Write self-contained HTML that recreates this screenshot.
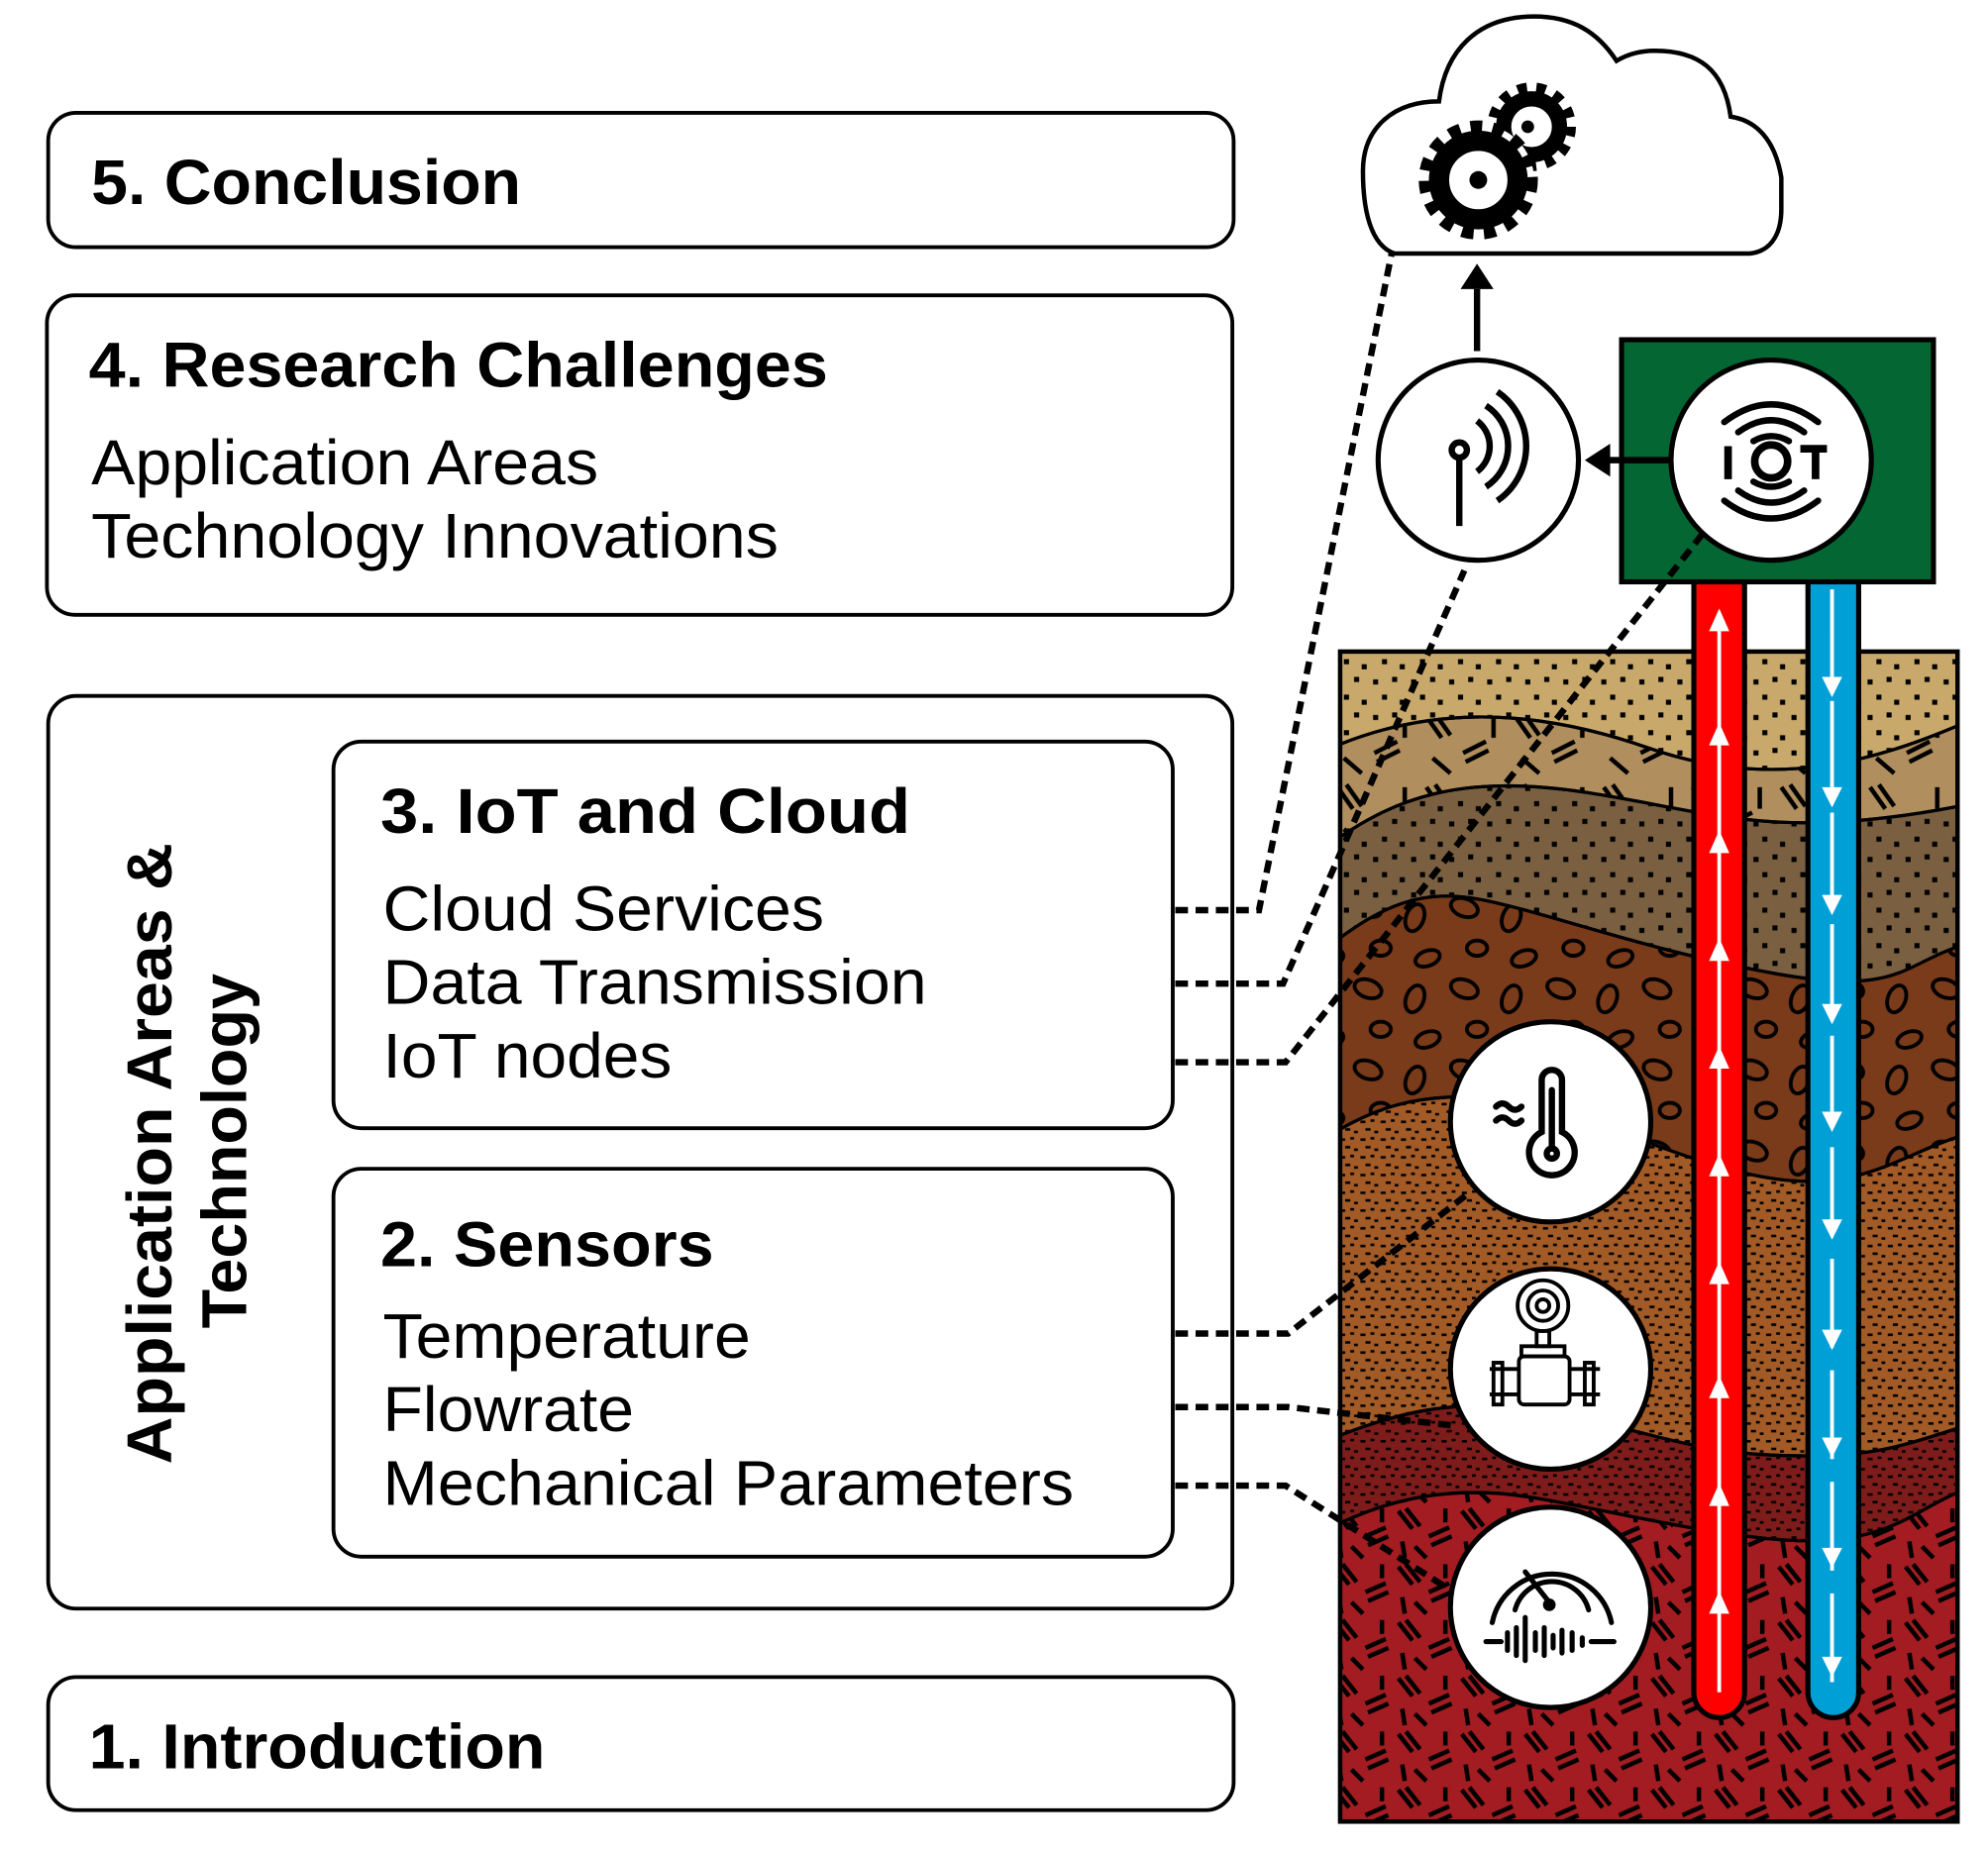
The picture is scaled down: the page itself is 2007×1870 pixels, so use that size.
<!DOCTYPE html>
<html><head><meta charset="utf-8"><style>html,body{margin:0;padding:0;background:#fff}svg{display:block}</style></head><body>
<svg width="2007" height="1870" viewBox="0 0 1568 1461" xmlns="http://www.w3.org/2000/svg" font-family="Liberation Sans, Arial, sans-serif">
<defs>
<pattern id="dots" width="30" height="28" patternUnits="userSpaceOnUse">
<rect x="3" y="4" width="4" height="4" fill="#000"/><rect x="18" y="2" width="4" height="4" fill="#000"/><rect x="10" y="16" width="4" height="4" fill="#000"/><rect x="24" y="20" width="4" height="4" fill="#000"/></pattern>
<pattern id="fdots" width="16" height="14" patternUnits="userSpaceOnUse">
<rect x="1" y="2" width="4" height="2" fill="#000"/><rect x="9" y="1" width="3" height="2" fill="#000"/><rect x="5" y="8" width="4" height="2" fill="#000"/><rect x="12" y="10" width="3" height="2" fill="#000"/></pattern>
<pattern id="dash" width="70" height="56" patternUnits="userSpaceOnUse">
<g stroke="#000" stroke-width="3.5"><line x1="5" y1="5" x2="17" y2="22"/><line x1="12" y1="3" x2="24" y2="20"/><line x1="34" y1="34" x2="52" y2="25"/><line x1="36" y1="41" x2="54" y2="32"/><line x1="58" y1="5" x2="58" y2="22"/><line x1="10" y1="38" x2="24" y2="50"/></g></pattern>
<pattern id="dash2" width="50" height="44" patternUnits="userSpaceOnUse">
<g stroke="#000" stroke-width="3.5"><line x1="3" y1="4" x2="14" y2="18"/><line x1="9" y1="2" x2="20" y2="16"/><line x1="27" y1="24" x2="43" y2="17"/><line x1="29" y1="31" x2="45" y2="24"/><line x1="40" y1="2" x2="40" y2="13"/><line x1="6" y1="28" x2="8" y2="41"/><line x1="16" y1="32" x2="25" y2="41"/></g></pattern>
<pattern id="ell" width="76" height="64" patternUnits="userSpaceOnUse">
<g fill="none" stroke="#000" stroke-width="3"><ellipse cx="15" cy="12" rx="11" ry="7" transform="rotate(20 15 12)"/><ellipse cx="52" cy="20" rx="7" ry="11" transform="rotate(20 52 20)"/><ellipse cx="25" cy="44" rx="8" ry="6"/><ellipse cx="62" cy="52" rx="10" ry="6" transform="rotate(-20 62 52)"/></g></pattern>
<clipPath id="soil"><rect x="1057" y="514" width="487" height="923"/></clipPath>
</defs>
<g fill="none" stroke="#000" stroke-width="3">
<rect x="38" y="89" width="935" height="106" rx="22"/>
<rect x="37" y="233" width="935" height="252" rx="22"/>
<rect x="38" y="549" width="934" height="720" rx="22"/>
<rect x="263" y="585" width="662" height="305" rx="22"/>
<rect x="263" y="922" width="662" height="306" rx="22"/>
<rect x="38" y="1323" width="935" height="105" rx="22"/>
</g>
<g font-size="50" fill="#000">
<text x="72" y="161" font-weight="bold" textLength="339" lengthAdjust="spacingAndGlyphs">5. Conclusion</text>
<text x="70" y="305" font-weight="bold" textLength="583" lengthAdjust="spacingAndGlyphs">4. Research Challenges</text>
<text x="72" y="382" textLength="400" lengthAdjust="spacingAndGlyphs">Application Areas</text>
<text x="72" y="440" textLength="542" lengthAdjust="spacingAndGlyphs">Technology Innovations</text>
<text x="300" y="657" font-weight="bold" textLength="418" lengthAdjust="spacingAndGlyphs">3.  IoT and Cloud</text>
<text x="302" y="734" textLength="348" lengthAdjust="spacingAndGlyphs">Cloud Services</text>
<text x="302" y="792" textLength="429" lengthAdjust="spacingAndGlyphs">Data Transmission</text>
<text x="302" y="850" textLength="228" lengthAdjust="spacingAndGlyphs">IoT nodes</text>
<text x="300" y="999" font-weight="bold" textLength="263" lengthAdjust="spacingAndGlyphs">2. Sensors</text>
<text x="302" y="1071" textLength="290" lengthAdjust="spacingAndGlyphs">Temperature</text>
<text x="302" y="1129" textLength="198" lengthAdjust="spacingAndGlyphs">Flowrate</text>
<text x="302" y="1187" textLength="545" lengthAdjust="spacingAndGlyphs">Mechanical Parameters</text>
<text x="70" y="1395" font-weight="bold" textLength="360" lengthAdjust="spacingAndGlyphs">1. Introduction</text>
<text transform="translate(135 1155) rotate(-90)" font-weight="bold" textLength="490" lengthAdjust="spacingAndGlyphs">Application Areas &amp;</text>
<text transform="translate(194 1048) rotate(-90)" font-weight="bold" textLength="280" lengthAdjust="spacingAndGlyphs">Technology</text>
</g>
<g clip-path="url(#soil)" stroke="#000" stroke-width="2.5">
<rect x="1057" y="514" width="487" height="923" fill="#c9a96b"/>
<rect x="1057" y="514" width="487" height="923" fill="url(#dots)" stroke="none"/>
<path d="M1050 590 C1120 560 1200 555 1300 590 S1480 600 1550 570 L1550 1440 L1050 1440Z" fill="#b08e5e"/>
<path d="M1050 590 C1120 560 1200 555 1300 590 S1480 600 1550 570 L1550 1440 L1050 1440Z" fill="url(#dash)"/>
<path d="M1050 665 C1100 630 1150 610 1250 625 S1400 665 1550 635 L1550 1440 L1050 1440Z" fill="#7a6040"/>
<path d="M1050 665 C1100 630 1150 610 1250 625 S1400 665 1550 635 L1550 1440 L1050 1440Z" fill="url(#dots)"/>
<path d="M1050 745 C1090 715 1120 700 1170 710 S1300 750 1400 768 S1500 760 1550 745 L1550 1440 L1050 1440Z" fill="#7a3b1a"/>
<path d="M1050 745 C1090 715 1120 700 1170 710 S1300 750 1400 768 S1500 760 1550 745 L1550 1440 L1050 1440Z" fill="url(#ell)"/>
<path d="M1050 895 C1090 870 1130 860 1190 868 S1330 920 1400 930 S1500 910 1550 895 L1550 1440 L1050 1440Z" fill="#a25a26"/>
<path d="M1050 895 C1090 870 1130 860 1190 868 S1330 920 1400 930 S1500 910 1550 895 L1550 1440 L1050 1440Z" fill="url(#fdots)"/>
<path d="M1050 1135 C1100 1115 1140 1105 1200 1110 S1320 1145 1400 1148 S1500 1140 1550 1125 L1550 1440 L1050 1440Z" fill="#7d1c1a"/>
<path d="M1050 1135 C1100 1115 1140 1105 1200 1110 S1320 1145 1400 1148 S1500 1140 1550 1125 L1550 1440 L1050 1440Z" fill="url(#fdots)"/>
<path d="M1050 1205 C1090 1185 1130 1175 1180 1178 S1330 1210 1410 1215 S1510 1190 1550 1175 L1550 1440 L1050 1440Z" fill="#a31c22"/>
<path d="M1050 1205 C1090 1185 1130 1175 1180 1178 S1330 1210 1410 1215 S1510 1190 1550 1175 L1550 1440 L1050 1440Z" fill="url(#dash2)"/>
</g>
<rect x="1057" y="514" width="487" height="923" fill="none" stroke="#000" stroke-width="3.5"/>
<path d="M1336 458 L1376 458 L1376 1335 A20 20 0 0 1 1336 1335 Z" fill="#ff0000" stroke="#000" stroke-width="4"/>
<path d="M1426 458 L1466 458 L1466 1335 A20 20 0 0 1 1426 1335 Z" fill="#009fd6" stroke="#000" stroke-width="4"/>
<g stroke="#fff" stroke-width="3" fill="#fff">
<line x1="1356" y1="490" x2="1356" y2="1335"/>
<line x1="1445" y1="465" x2="1445" y2="1335" stroke-dasharray="70 18"/>
</g>
<g fill="#fff">
<path d="M1356 480 l-8 18 h16z"/><path d="M1356 570 l-8 18 h16z"/><path d="M1356 655 l-8 18 h16z"/><path d="M1356 740 l-8 18 h16z"/><path d="M1356 825 l-8 18 h16z"/><path d="M1356 910 l-8 18 h16z"/><path d="M1356 995 l-8 18 h16z"/><path d="M1356 1085 l-8 18 h16z"/><path d="M1356 1170 l-8 18 h16z"/><path d="M1356 1255 l-8 18 h16z"/>
<path d="M1445 550 l-8 -16 h16z"/><path d="M1445 637 l-8 -16 h16z"/><path d="M1445 722 l-8 -16 h16z"/><path d="M1445 808 l-8 -16 h16z"/><path d="M1445 893 l-8 -16 h16z"/><path d="M1445 978 l-8 -16 h16z"/><path d="M1445 1065 l-8 -16 h16z"/><path d="M1445 1150 l-8 -16 h16z"/><path d="M1445 1237 l-8 -16 h16z"/><path d="M1445 1323 l-8 -16 h16z"/>
</g>
<rect x="1279" y="268" width="246" height="191" fill="#036633" stroke="#000" stroke-width="4"/>
<g fill="none" stroke="#000" stroke-width="5" stroke-dasharray="10 6">
<path d="M927 718 L993 718 L1098 198"/>
<path d="M927 776 L1012 776 L1155 450"/>
<path d="M927 838 L1014 838 L1343 421"/>
<path d="M927 1052 L1016 1052 L1160 940"/>
<path d="M927 1110 L1016 1110 L1150 1125"/>
<path d="M927 1172 L1014 1172 L1145 1255"/>
</g>
<path d="M1100 200 L1380 200 C1400 198 1405 180 1405 165 L1405 140 C1400 110 1385 95 1365 92 C1360 55 1340 40 1305 40 C1290 40 1280 45 1275 48 C1260 25 1240 13 1210 13 C1165 13 1140 40 1135 80 C1100 80 1075 100 1075 135 C1075 175 1085 195 1100 200 Z" fill="#fff" stroke="#000" stroke-width="3.5"/>
<circle cx="1208" cy="100" r="29" fill="none" stroke="#000" stroke-width="12" stroke-dasharray="7 7"/>
<circle cx="1208" cy="100" r="22" fill="none" stroke="#000" stroke-width="12"/>
<circle cx="1205" cy="100" r="5" fill="#000"/>
<circle cx="1166" cy="142" r="44" fill="#fff"/>
<circle cx="1166" cy="142" r="41" fill="none" stroke="#000" stroke-width="12" stroke-dasharray="9 8"/>
<circle cx="1166" cy="142" r="31" fill="none" stroke="#000" stroke-width="16"/>
<circle cx="1166" cy="142" r="7" fill="#000"/>
<line x1="1165" y1="277" x2="1165" y2="228" stroke="#000" stroke-width="5"/>
<path d="M1165 208 l-13 20 h26z" fill="#000"/>
<line x1="1318" y1="363" x2="1268" y2="363" stroke="#000" stroke-width="5"/>
<path d="M1250 363 l20 -13 v26z" fill="#000"/>
<g fill="#fff" stroke="#000" stroke-width="4">
<circle cx="1166" cy="363" r="79"/>
<circle cx="1397" cy="363" r="79"/>
<circle cx="1223" cy="885" r="79"/>
<circle cx="1223" cy="1080" r="79"/>
<circle cx="1223" cy="1268" r="79"/>
</g>
<g fill="none" stroke="#000" stroke-width="5">
<line x1="1151" y1="360" x2="1151" y2="415"/><circle cx="1151" cy="355" r="6"/>
<path d="M1165 332 A25 25 0 0 1 1165 372"/><path d="M1172 320 A38 38 0 0 1 1172 384"/><path d="M1181 309 A52 52 0 0 1 1181 395"/>
</g>
<g fill="none" stroke="#000" stroke-width="5" stroke-linecap="round">
<path d="M1360 333 Q1397 305 1434 333"/><path d="M1371 341 Q1397 322 1423 341"/><path d="M1383 348 Q1397 340 1411 348"/>
<path d="M1360 395 Q1397 423 1434 395"/><path d="M1371 387 Q1397 406 1423 387"/><path d="M1383 380 Q1397 388 1411 380"/>
</g>
<g fill="none" stroke="#000" stroke-width="6">
<line x1="1363" y1="352" x2="1363" y2="378"/><circle cx="1397" cy="364" r="13"/>
<line x1="1420" y1="354" x2="1441" y2="354"/><line x1="1432" y1="354" x2="1432" y2="378"/>
</g>
<g fill="none" stroke="#000" stroke-width="5" stroke-linecap="round">
<path d="M1216 893 L1216 852 A8 8 0 0 1 1232 852 L1232 893 A18 18 0 1 1 1216 893 Z"/>
<line x1="1224" y1="860" x2="1224" y2="905"/><circle cx="1224" cy="910" r="4"/>
<path d="M1180 873 q5 -5 10 0 t10 0"/><path d="M1180 884 q5 -5 10 0 t10 0"/>
</g>
<g fill="none" stroke="#000" stroke-width="3">
<circle cx="1217" cy="1030" r="20"/><circle cx="1217" cy="1030" r="12"/><circle cx="1217" cy="1030" r="5"/>
<rect x="1212" y="1050" width="10" height="12"/><rect x="1200" y="1062" width="34" height="8"/>
<rect x="1198" y="1070" width="40" height="38" rx="4"/>
<line x1="1175" y1="1080" x2="1198" y2="1080"/><line x1="1175" y1="1100" x2="1198" y2="1100"/>
<line x1="1238" y1="1080" x2="1262" y2="1080"/><line x1="1238" y1="1100" x2="1262" y2="1100"/>
<rect x="1178" y="1075" width="7" height="33"/><rect x="1250" y="1075" width="7" height="33"/>
</g>
<g fill="none" stroke="#000" stroke-width="4" stroke-linecap="round">
<path d="M1177 1280 A48 48 0 0 1 1271 1280"/>
<path d="M1195 1270 A30 30 0 0 1 1253 1270"/>
<line x1="1203" y1="1240" x2="1222" y2="1264"/><circle cx="1222" cy="1266" r="3" fill="#000"/>
<path d="M1172 1295 h12 M1189 1288 v14 M1196 1284 v22 M1203 1276 v34 M1211 1288 v14 M1218 1284 v22 M1225 1290 v10 M1232 1286 v18 M1240 1288 v14 M1248 1292 v6 M1255 1295 h18"/>
</g>
</svg>
</body></html>
